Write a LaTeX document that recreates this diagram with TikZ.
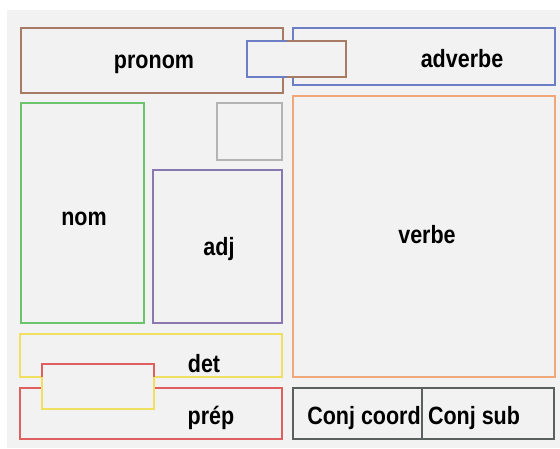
\documentclass[tikz,border=0pt]{standalone}
\usepackage{fontspec}
\setmainfont{Liberation Sans}[FakeStretch=0.86]
\definecolor{bgc}{HTML}{F2F2F2}
\definecolor{pronomc}{HTML}{A87B64}
\definecolor{advc}{HTML}{6D7FC4}
\definecolor{verbec}{HTML}{F0A878}
\definecolor{nomc}{HTML}{6CC46C}
\definecolor{greyc}{HTML}{B4B4B4}
\definecolor{adjc}{HTML}{8A78B0}
\definecolor{detc}{HTML}{F0E060}
\definecolor{prepc}{HTML}{E06060}
\definecolor{conjc}{HTML}{5A6060}
\tikzset{
  box/.style={rectangle, draw=#1, line width=2pt, inner sep=0pt, outer sep=0pt, anchor=north west},
  cover/.style={rectangle, fill=bgc, inner sep=0pt, outer sep=0pt, anchor=north west},
  lbl/.style={font=\bfseries\fontsize{25}{25}\selectfont, inner sep=0pt, anchor=base},
  edge/.style={line width=2pt, line cap=rect}
}
\begin{document}
\begin{tikzpicture}[x=1pt,y=-1pt]
\useasboundingbox (0,0) rectangle (560,448);
\fill[white] (0,0) rectangle (560,448);
\fill[bgc] (7,10) rectangle (560,448);
% boxes
\node[box=pronomc, minimum width=262pt, minimum height=65pt] (pronom) at (21,28) {};
\node[box=advc, minimum width=262pt, minimum height=57pt] (adverbe) at (293,28) {};
\node[box=verbec, minimum width=262pt, minimum height=281pt] (verbe) at (293,96) {};
\node[box=nomc, minimum width=123pt, minimum height=220pt] (nom) at (21,103) {};
\node[box=greyc, minimum width=65pt, minimum height=57pt] (grey) at (217,103) {};
\node[box=adjc, minimum width=129pt, minimum height=153pt] (adj) at (153,170) {};
\node[box=detc, minimum width=262pt, minimum height=43pt] (det) at (20,334) {};
\node[box=prepc, minimum width=262pt, minimum height=51pt] (prep) at (20,388) {};
\node[box=conjc, minimum width=129pt, minimum height=51pt] (conjcoord) at (293,388) {};
\node[box=conjc, minimum width=132pt, minimum height=51pt] (conjsub) at (422,388) {};
% overlapping boxes
\node[cover, minimum width=99pt, minimum height=36pt] (ovA) at (247,41) {};
\draw[edge, advc] ([xshift=41pt]ovA.north west) -- (ovA.north west) -- (ovA.south west) -- ([xshift=41pt]ovA.south west);
\draw[edge, pronomc] ([xshift=41pt]ovA.north west) -- (ovA.north east) -- (ovA.south east) -- ([xshift=41pt]ovA.south west);
\node[cover, minimum width=112pt, minimum height=45pt] (ovB) at (42,364) {};
\draw[edge, prepc] ([yshift=-14pt]ovB.north west) -- (ovB.north west) -- (ovB.north east) -- ([yshift=-14pt]ovB.north east);
\draw[edge, detc] ([yshift=-14pt]ovB.north west) -- (ovB.south west) -- (ovB.south east) -- ([yshift=-14pt]ovB.north east);
% labels
\node[lbl] (tpronom) at (154,68) {pronom};
\node[lbl] (tadverbe) at (462,67) {adverbe};
\node[lbl] (tverbe) at (427,243) {verbe};
\node[lbl] (tnom) at (84,225) {nom};
\node[lbl] (tadj) at (219,255) {adj};
\node[lbl] (tdet) at (204,372) {det};
\node[lbl] (tprep) at (211,424) {prép};
\node[lbl] (tcoord) at (364,424) {Conj coord};
\node[lbl] (tsub) at (474,424) {Conj sub};
\end{tikzpicture}
\end{document}
